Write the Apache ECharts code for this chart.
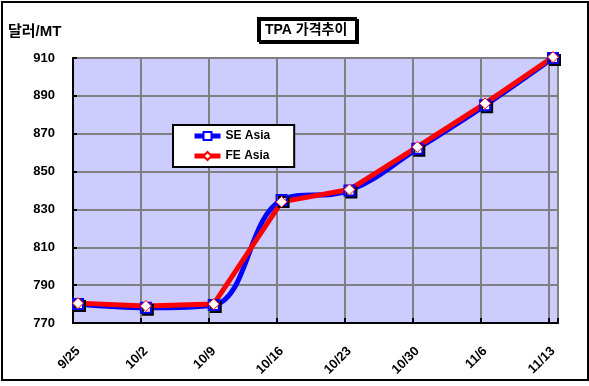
<!DOCTYPE html>
<html><head><meta charset="utf-8">
<script src="https://cdn.jsdelivr.net/npm/echarts@6/dist/echarts.min.js"></script>
<style>html,body{margin:0;padding:0;background:#fff}#c{width:589px;height:386px}</style>
</head><body><div id="c"></div>
<script>
const categories = ['9/25','10/2','10/9','10/16','10/23','10/30','11/6','11/13'];
const seAsia = [780, 778, 779.5, 835, 840, 862, 885, 910];
const feAsia = [780.5, 779, 780, 834, 840.5, 863, 886, 910.5];
const yMin = 770, yMax = 910, yStep = 20;
const titleText = 'TPA 가격추이';
const yUnit = '달러/MT';

const FONT = '"Liberation Sans", Arial, "Noto Sans CJK KR", sans-serif';
const chart = echarts.init(document.getElementById('c'), null, {renderer:'canvas'});
const frameWeeks = 485/68;
chart.setOption({
  animation:false,
  backgroundColor:'#fff',
  title:{text:titleText,left:258,top:18,padding:[4,9,3,7],backgroundColor:'#fff',borderColor:'#000',borderWidth:2,
    shadowColor:'#000',shadowOffsetX:2,shadowOffsetY:2,shadowBlur:0,
    textStyle:{fontFamily:FONT,fontSize:14,fontWeight:'bold',color:'#000',lineHeight:16}},
  legend:{orient:'vertical',left:173,top:125,padding:[5,24,5,19],itemGap:8,itemWidth:26,itemHeight:10,
    backgroundColor:'#fff',borderColor:'#000',borderWidth:2,
    lineStyle:{width:5},
    textStyle:{fontFamily:FONT,fontSize:12,fontWeight:'bold',color:'#000'},
    data:['SE Asia','FE Asia']},
  graphic:[
    {type:'rect',shape:{x:2,y:2,width:586,height:378},style:{fill:'none',stroke:'#000',lineWidth:2},z:100},
    {type:'text',left:8,top:24,style:{text:yUnit,font:'bold 15px '+FONT,fill:'#000'}}
  ],
  grid:[
    {left:73,top:58,width:485,height:265,show:true,backgroundColor:'#CCCCFF',borderColor:'#808080',borderWidth:2},
    {left:78,top:58,width:475,height:265}
  ],
  xAxis:[
    {gridIndex:0,type:'value',min:0,max:frameWeeks,interval:1,
     axisLine:{lineStyle:{color:'#000',width:2}},
     axisTick:{inside:true,length:5,lineStyle:{color:'#000',width:2}},
     axisLabel:{show:false},
     splitLine:{show:true,lineStyle:{color:'#808080',width:2}}},
    {gridIndex:1,type:'category',boundaryGap:false,data:categories,
     axisLine:{show:false},axisTick:{show:false},splitLine:{show:false},
     axisLabel:{rotate:45,margin:26,fontFamily:FONT,fontSize:13,fontWeight:'bold',color:'#000'}}
  ],
  yAxis:[
    {gridIndex:0,type:'value',min:yMin,max:yMax,interval:yStep,
     axisLine:{show:true,lineStyle:{color:'#000',width:2}},
     axisTick:{show:true,inside:true,length:4,lineStyle:{color:'#000',width:2}},
     axisLabel:{margin:18,fontFamily:FONT,fontSize:13,fontWeight:'bold',color:'#000'},
     splitLine:{show:true,lineStyle:{color:'#808080',width:2}}},
    {gridIndex:1,type:'value',min:yMin,max:yMax,interval:yStep,show:false,splitLine:{show:false}}
  ],
  series:[
    {name:'SE Asia',type:'line',xAxisIndex:1,yAxisIndex:1,data:seAsia,smooth:0.38,clip:false,
     symbol:'rect',symbolSize:10,
     lineStyle:{color:'#0000FF',width:5},
     itemStyle:{color:'#fff',borderColor:'#0000FF',borderWidth:2,shadowColor:'#000',shadowOffsetX:2,shadowOffsetY:2,shadowBlur:0}},
    {name:'FE Asia',type:'line',xAxisIndex:1,yAxisIndex:1,data:feAsia,smooth:false,clip:false,
     symbol:'diamond',symbolSize:11,
     lineStyle:{color:'#FF0000',width:5},
     itemStyle:{color:'#fff',borderColor:'#FF0000',borderWidth:1}}
  ]
});
</script></body></html>
